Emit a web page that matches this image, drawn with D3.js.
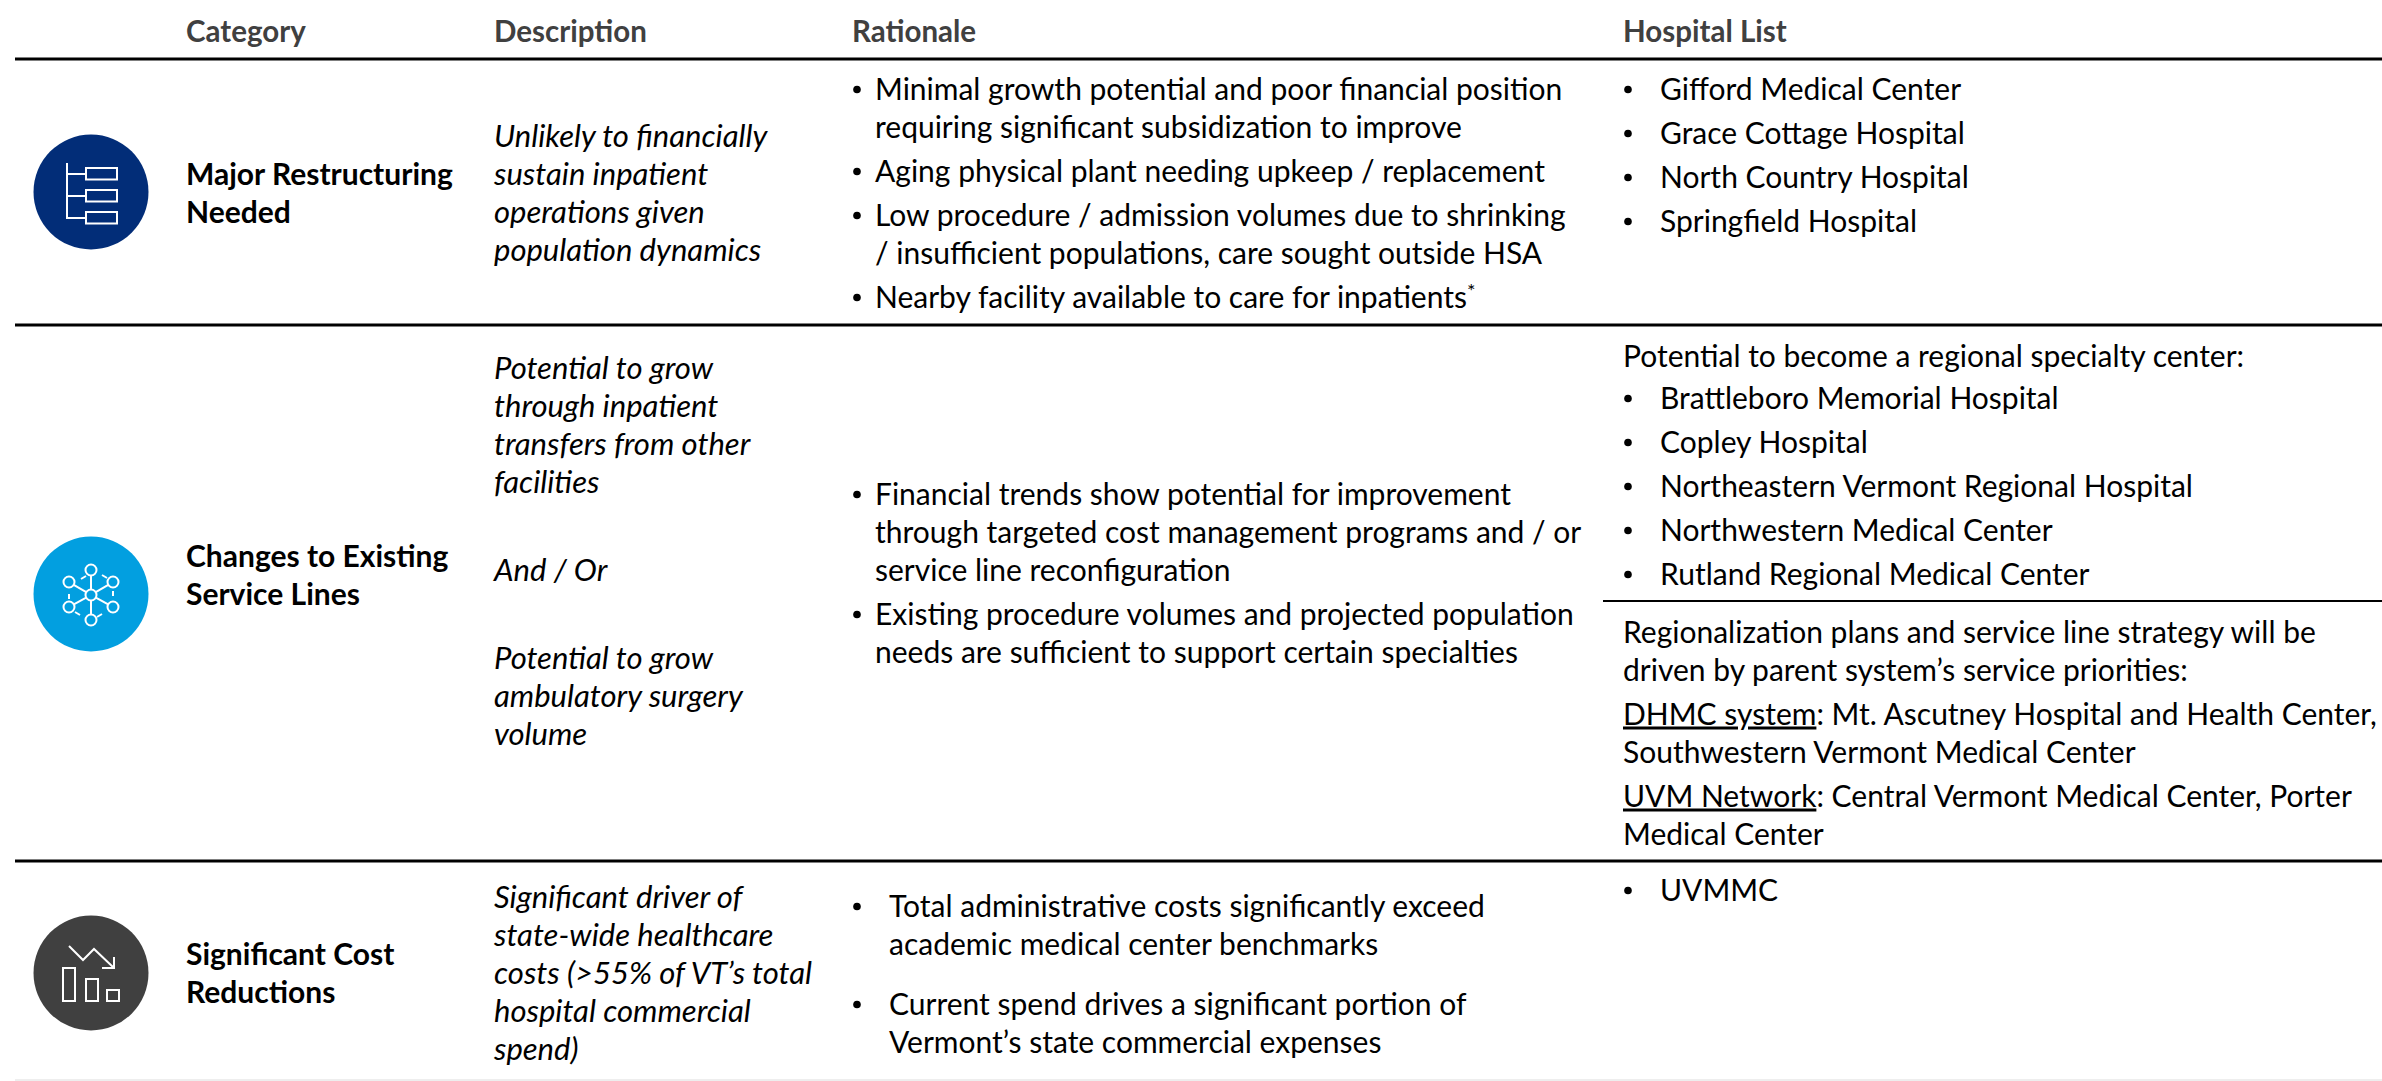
<!DOCTYPE html>
<html>
<head>
<meta charset="utf-8">
<script src="https://cdn.jsdelivr.net/npm/d3@7"></script>
<style>
body { margin: 0; background: #fff; }
text { font-family: Lato, "Open Sans", sans-serif; font-size: 30px; fill: #000; }
</style>
</head>
<body>
<script>
var headers = ['Category', 'Description', 'Rationale', 'Hospital List'];

var restructureName = ['Major Restructuring', 'Needed'];
var restructureDescription = [['Unlikely to financially', 'sustain inpatient', 'operations given', 'population dynamics']];
var restructureRationale = [
    ['Minimal growth potential and poor financial position', 'requiring significant subsidization to improve'],
    ['Aging physical plant needing upkeep / replacement'],
    ['Low procedure / admission volumes due to shrinking', '/ insufficient populations, care sought outside HSA'],
    ['Nearby facility available to care for inpatients']
];
var restructureHospitals = [['Gifford Medical Center'], ['Grace Cottage Hospital'], ['North Country Hospital'], ['Springfield Hospital']];

var serviceName = ['Changes to Existing', 'Service Lines'];
var serviceDescription = [
    ['Potential to grow', 'through inpatient', 'transfers from other', 'facilities'],
    ['And / Or'],
    ['Potential to grow', 'ambulatory surgery', 'volume']
];
var serviceRationale = [
    ['Financial trends show potential for improvement', 'through targeted cost management programs and / or', 'service line reconfiguration'],
    ['Existing procedure volumes and projected population', 'needs are sufficient to support certain specialties']
];
var specialtyIntro = [['Potential to become a regional specialty center:']];
var specialtyHospitals = [['Brattleboro Memorial Hospital'], ['Copley Hospital'], ['Northeastern Vermont Regional Hospital'], ['Northwestern Medical Center'], ['Rutland Regional Medical Center']];
var parentSystems = [
    ['Regionalization plans and service line strategy will be', 'driven by parent system\u2019s service priorities:'],
    ['DHMC system|: Mt. Ascutney Hospital and Health Center,', 'Southwestern Vermont Medical Center'],
    ['UVM Network|: Central Vermont Medical Center, Porter', 'Medical Center']
];

var costName = ['Significant Cost', 'Reductions'];
var costDescription = [['Significant driver of', 'state-wide healthcare', 'costs (>55% of VT\u2019s total', 'hospital commercial', 'spend)']];
var costRationale = [
    ['Total administrative costs significantly exceed', 'academic medical center benchmarks'],
    ['Current spend drives a significant portion of', 'Vermont\u2019s state commercial expenses']
];
var costHospitals = [['UVMMC']];

var svg;
var colX = d3.scaleOrdinal().domain(headers).range([186, 494, 852, 1623]);
var LINE_STEP = 38;

function init() {
    svg = d3.select('body').append('svg')
        .attr('width', 2382)
        .attr('height', 1081)
        .style('display', 'block');

    drawRules();

    svg.selectAll('.header')
        .data(headers)
        .enter().append('text')
        .attr('class', 'header')
        .attr('x', function (d) { return colX(d); })
        .attr('y', 41.5)
        .style('font-weight', 700)
        .style('font-size', '29.5px')
        .style('fill', '#404040')
        .text(function (d) { return d; });

    // row 1
    drawBlock([restructureName], colX('Category'), 184.5, { bold: true });
    drawBlock(restructureDescription, colX('Description'), 146.5, { italic: true });
    var r1 = drawBlock(restructureRationale, colX('Rationale') + 23, 99.5, { gap: 6, bullet: colX('Rationale') + 5 });
    r1.last.append('tspan').attr('dy', -10).style('font-size', '20px').text('*');
    drawBlock(restructureHospitals, colX('Hospital List') + 37, 99.5, { gap: 6, bullet: colX('Hospital List') + 5 });

    // row 2
    drawBlock([serviceName], colX('Category'), 566.5, { bold: true });
    drawBlock(serviceDescription, colX('Description'), 378.5, { italic: true, gap: 50 });
    drawBlock(serviceRationale, colX('Rationale') + 23, 504.5, { gap: 6, bullet: colX('Rationale') + 5 });
    drawBlock(specialtyIntro, colX('Hospital List'), 366.5, {});
    drawBlock(specialtyHospitals, colX('Hospital List') + 37, 408.5, { gap: 6, bullet: colX('Hospital List') + 5 });
    drawBlock(parentSystems, colX('Hospital List'), 642.5, { gap: 6 });

    // row 3
    drawBlock([costName], colX('Category'), 964.5, { bold: true });
    drawBlock(costDescription, colX('Description'), 907.5, { italic: true });
    drawBlock(costRationale, colX('Rationale') + 37, 916.5, { gap: 22, bullet: colX('Rationale') + 5 });
    drawBlock(costHospitals, colX('Hospital List') + 37, 900.5, { bullet: colX('Hospital List') + 5 });

    drawTreeIcon(createBadge(192, '#022d78'));
    drawNetworkIcon(createBadge(594, '#029fe0'));
    drawDeclineIcon(createBadge(973, '#404040'));
}

function drawRules() {
    createRule(15, 59, 3, '#000');
    createRule(15, 325, 3, '#000');
    createRule(1603, 601, 2, '#000');
    createRule(15, 861, 3, '#000');
    createRule(15, 1080, 2, '#eeeeee');
}

function createRule(x1, y, width, color) {
    return svg.append('line')
        .attr('x1', x1)
        .attr('x2', 2382)
        .attr('y1', y)
        .attr('y2', y)
        .attr('stroke', color)
        .attr('stroke-width', width);
}

// paragraphs is a list of paragraphs, each a list of lines. A '|' ends the underlined part of a line.
function drawBlock(paragraphs, x, startY, opts) {
    var y = startY;
    var last;
    paragraphs.forEach(function (lines) {
        if (opts.bullet) {
            svg.append('circle')
                .attr('cx', opts.bullet)
                .attr('cy', y - 10)
                .attr('r', 3.8)
                .attr('fill', '#000');
        }
        lines.forEach(function (line) {
            last = svg.append('text')
                .attr('x', x)
                .attr('y', y)
                .style('font-weight', opts.bold ? 700 : 400)
                .style('font-style', opts.italic ? 'italic' : 'normal')
                .style('font-size', opts.italic ? '31px' : null);
            var parts = line.split('|');
            if (parts.length > 1) {
                last.append('tspan').style('text-decoration', 'underline').text(parts[0]);
                last.append('tspan').text(parts[1]);
            } else {
                last.text(line);
            }
            y += LINE_STEP;
        });
        y += opts.gap || 0;
    });
    return { last: last };
}

function createBadge(cy, color) {
    svg.append('circle')
        .attr('cx', 91)
        .attr('cy', cy)
        .attr('r', 57.5)
        .attr('fill', color);
    return svg.append('g')
        .attr('transform', 'translate(91,' + cy + ')')
        .attr('fill', 'none')
        .attr('stroke', '#fff')
        .attr('stroke-width', 2);
}

function drawPath(icon, points) {
    icon.append('path').attr('d', d3.line()(points));
}

function drawTreeIcon(icon) {
    drawPath(icon, [[-24, -29], [-24, 26], [-5, 26]]);
    drawPath(icon, [[-24, -18], [-5, -18]]);
    drawPath(icon, [[-24, 4], [-5, 4]]);
    [-24, -2, 20].forEach(function (top) {
        icon.append('rect').attr('x', -5).attr('y', top).attr('width', 31).attr('height', 11.5);
    });
}

function drawNetworkIcon(icon) {
    var nodes = [[0, -25], [22, -13], [22, 12], [0, 25], [-22, 12], [-22, -13]];
    var ticks = [
        [[-5, -19], [-10, -16]], [[16, -17], [11, -20]], [[22, 1], [22, -4]],
        [[6, 22], [11, 19]], [[-16, 17], [-11, 20]], [[-22, -1], [-22, 4]]
    ];
    icon.append('circle').attr('cx', 0).attr('cy', 1).attr('r', 5.5);
    nodes.forEach(function (n, i) {
        icon.append('circle').attr('cx', n[0]).attr('cy', n[1] + 1).attr('r', 5.5);
        var len = Math.hypot(n[0], n[1]);
        drawPath(icon, [[n[0] * 5.5 / len, n[1] * 5.5 / len + 1], [n[0] * (len - 5.5) / len, n[1] * (len - 5.5) / len + 1]]);
        drawPath(icon, ticks[i].map(function (p) { return [p[0], p[1] + 1]; }));
    });
}

function drawDeclineIcon(icon) {
    drawPath(icon, [[-22, -27], [-8, -13], [3, -24], [23, -5]]);
    drawPath(icon, [[23, -16], [23, -5], [11, -5]]);
    [[-28, -5, 12, 33], [-5, 6, 12, 22], [16, 17, 12, 11]].forEach(function (b) {
        icon.append('rect').attr('x', b[0]).attr('y', b[1]).attr('width', b[2]).attr('height', b[3]);
    });
}

init();
</script>
</body>
</html>
